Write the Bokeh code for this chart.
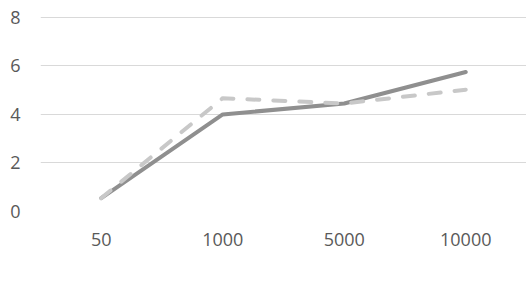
from bokeh.plotting import figure
from bokeh.models import FactorRange, Range1d, Legend, LegendItem, FixedTicker
from bokeh.embed import file_html
from bokeh.resources import INLINE

categories = ["50", "1000", "5000", "10000"]
no_show = [0.55, 4.0, 4.45, 5.75]
power = [0.55, 4.67, 4.45, 5.02]
y_ticks = [0, 2, 4, 6, 8]

p = figure(frame_width=486, frame_height=199,
           x_range=FactorRange(factors=categories, range_padding=0),
           y_range=Range1d(0, 8.2), output_backend="svg", toolbar_location=None,
           min_border_left=40, min_border_right=0, min_border_top=12, min_border_bottom=87)
p.outline_line_color = None
p.xgrid.grid_line_color = None
p.ygrid.grid_line_color = "#d9d9d9"
p.ygrid.grid_line_width = 1
p.yaxis.ticker = FixedTicker(ticks=y_ticks)
for ax in (p.xaxis[0], p.yaxis[0]):
    ax.axis_line_color = None
    ax.major_tick_line_color = None
    ax.minor_tick_line_color = None
    ax.major_tick_out = 0
    ax.major_tick_in = 0
    ax.major_label_text_font = "Open Sans"
    ax.major_label_text_font_size = "18px"
    ax.major_label_text_color = "#595959"
p.yaxis.major_label_standoff = 20
p.xaxis.major_label_standoff = 21

r1 = p.line(categories, no_show, line_color="#8f8f8f", line_width=4, line_cap="round", line_join="round")
r2 = p.line(categories, power, line_color="#c8c8c8", line_width=4, line_cap="round", line_join="round",
            line_dash="12 14")

legend = Legend(items=[LegendItem(label="Speed Up-No Show", renderers=[r1]),
                       LegendItem(label="Speed Up-Power", renderers=[r2])],
                orientation="horizontal", location="top_center",
                label_text_font="Open Sans", label_text_font_size="18px", label_text_color="#595959",
                glyph_width=62, label_standoff=5, spacing=22, border_line_color=None,
                background_fill_alpha=0, padding=0, margin=-8)
p.add_layout(legend, "below")

open("out.html", "w").write(file_html(p, INLINE))
